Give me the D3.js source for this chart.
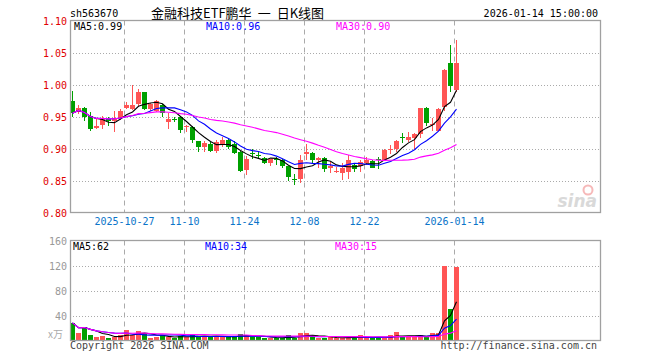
<!DOCTYPE html>
<html>
<head>
<meta charset="utf-8">
<script src="https://cdnjs.cloudflare.com/ajax/libs/d3/7.8.5/d3.min.js"></script>
<style>
body{margin:0;background:#fff}
svg{display:block}
text{font-family:"DejaVu Sans Mono",monospace;font-size:10px}
</style>
</head>
<body>
<div id="chart"></div>
<script>
// daily bars, 563670 since listing
var dates=["10-14","10-15","10-16","10-17","10-20","10-21","10-22","10-23","10-24","10-27","10-28","10-29","10-30","10-31",
"11-03","11-04","11-05","11-06","11-07","11-10","11-11","11-12","11-13","11-14","11-17","11-18","11-19","11-20","11-21","11-24","11-25","11-26","11-27","11-28",
"12-01","12-02","12-03","12-04","12-05","12-08","12-09","12-10","12-11","12-12","12-15","12-16","12-17","12-18","12-19","12-22","12-23","12-24","12-25","12-26","12-29","12-30","12-31",
"01-05","01-06","01-07","01-08","01-09","01-12","01-13","01-14"]
var open=[.975,.957,.964,.951,.932,.937,.946,.943,.947,.964,.962,.969,.988,.961,.959,.968,.942,.946,.950,.933,.934,.911,.902,.907,.896,.907,.913,.907,.894,.866,
.893,.890,.885,.877,.884,.882,.872,.853,.852,.891,.893,.882,.885,.869,.864,.862,.864,.874,.872,.877,.880,.883,.882,.897,.900,.918,.914,.916,.923,.964,.936,.928,.965,1.034,.992]
var high=[.990,.968,.965,.957,.946,.951,.949,.958,.962,.972,1.000,.993,.989,.971,.976,.969,.956,.950,.951,.937,.935,.911,.911,.910,.913,.918,.916,.911,.896,.889,
.900,.895,.887,.884,.887,.884,.873,.860,.890,.907,.894,.886,.887,.879,.871,.878,.890,.878,.882,.886,.882,.887,.900,.906,.914,.924,.926,.924,.964,.965,.947,.964,1.025,1.062,1.069]
var low=[.950,.954,.943,.928,.930,.930,.935,.926,.945,.962,.960,.967,.960,.958,.957,.949,.931,.941,.925,.926,.909,.894,.895,.894,.893,.902,.899,.892,.863,.859,
.884,.883,.876,.873,.875,.870,.850,.843,.846,.882,.877,.870,.864,.862,.861,.851,.853,.864,.864,.875,.869,.868,.880,.892,.895,.908,.910,.900,.916,.935,.927,.927,.959,.988,.988]
var close=[.955,.964,.950,.931,.935,.946,.943,.947,.959,.968,.968,.988,.962,.969,.974,.956,.946,.945,.929,.935,.913,.902,.909,.896,.910,.914,.902,.893,.865,.884,
.892,.889,.877,.883,.882,.872,.855,.852,.882,.894,.882,.885,.868,.872,.865,.870,.882,.868,.879,.882,.870,.882,.898,.900,.911,.917,.918,.923,.963,.940,.939,.962,1.023,.997,1.034]
// volume, 10k units
var volume=[28.3,12.5,21.5,9,5.5,7.6,4.4,5,8.6,16.6,9,15,9.7,4.2,5.5,8.2,5.5,4.6,6.5,5.3,9,7.6,6.8,5.8,5.8,6.8,5.8,5.8,10.5,8.4,
6.2,5.2,4,3.8,4.6,4.6,8,4.6,11.5,11.5,5.5,3.8,4,5.6,4.5,4.5,4.5,4.5,8.2,4.5,4.5,4.5,4.6,8.2,13,5,6,6,9,7,11.5,11.5,119,51,117]

var priceTicks=[0.80,0.85,0.90,0.95,1.00,1.05,1.10]
var volTicks=[40,80,120,160]
var tickDates=["10-27","11-10","11-24","12-08","12-22","01-14"]
var tickLabels=["2025-10-27","11-10","11-24","12-08","12-22","2026-01-14"]
var maPeriods=[5,10,30]
var maColors=["#000","#0000ff","#ff00ff"]

var W=660,H=360
var left=70,right=600
var pTop=20.5,pBot=212.5,vTop=240.5,vBot=340.5
var RED="#ff5555",GREEN="#00a000"

var svg=d3.select("#chart").append("svg").attr("width",W).attr("height",H)

var x=d3.scaleLinear().domain([0,88]).range([left,left+528])
var y=d3.scaleLinear().domain([0.80,1.10]).range([pBot,pTop])
var yv=d3.scaleLinear().domain([0,160]).range([vBot,vTop])

function ma(arr,n){
    return arr.map(function(d,i){
        var s=arr.slice(Math.max(0,i-n+1),i+1)
        return d3.mean(s)
    })
}
function trunc(v,k){var p=Math.pow(10,k);return (Math.floor(v*p+1e-9)/p).toFixed(k)}

var rows=dates.map(function(d,i){
    return {i:i,date:d,o:open[i],h:high[i],l:low[i],c:close[i],v:volume[i],up:close[i]>=open[i]}
})
var tickIdx=tickDates.map(function(d){return dates.indexOf(d)})

// header
svg.append("text").attr("x",70).attr("y",16.5).text("sh563670")
var title=svg.append("text").attr("x",151).attr("y",17.5)
    .style("font-family","'Noto Sans CJK SC',sans-serif").style("font-size","13px")
title.append("tspan").text("金融科技ETF鹏华")
title.append("tspan").attr("dx",6).text("一")
title.append("tspan").attr("dx",6).text("日K线图")
svg.append("text").attr("x",598).attr("y",16.5).attr("text-anchor","end").text("2026-01-14 15:00:00")

// grids
var grid=svg.append("g")
grid.selectAll(".hp").data(priceTicks.slice(1,-1)).enter().append("line")
    .attr("x1",left).attr("x2",right).attr("y1",function(d){return Math.round(y(d))+0.5}).attr("y2",function(d){return Math.round(y(d))+0.5})
    .attr("stroke","#aaa").attr("stroke-dasharray","1,2")
grid.selectAll(".hv").data(volTicks.slice(0,-1)).enter().append("line")
    .attr("x1",left).attr("x2",right).attr("y1",function(d){return Math.round(yv(d))+0.5}).attr("y2",function(d){return Math.round(yv(d))+0.5})
    .attr("stroke","#aaa").attr("stroke-dasharray","1,2")
tickIdx.forEach(function(i){
    [[pTop,pBot],[vTop,vBot]].forEach(function(r){
        grid.append("line").attr("x1",x(i)+0.5).attr("x2",x(i)+0.5).attr("y1",r[0]).attr("y2",r[1])
            .attr("stroke","#aaa").attr("stroke-dasharray","5,4")
    })
})

// axis labels
svg.selectAll(".pl").data(priceTicks).enter().append("text")
    .attr("x",67).attr("y",function(d){return y(d)+4}).attr("text-anchor","end")
    .attr("fill","#e00000").text(function(d){return d.toFixed(2)})
svg.selectAll(".vl").data(volTicks).enter().append("text")
    .attr("x",67).attr("y",function(d){return yv(d)+4}).attr("text-anchor","end")
    .attr("fill","#999").text(function(d){return d})
svg.append("text").attr("x",63).attr("y",338).attr("text-anchor","end").attr("fill","#aaa")
    .style("font-family","'Noto Sans CJK SC',sans-serif").style("font-size","10px").text("x万")
svg.selectAll(".dl").data(tickIdx).enter().append("text")
    .attr("x",function(d){return x(d)+0.5}).attr("y",225).attr("text-anchor","middle")
    .attr("fill","#0a74c9").text(function(d,k){return tickLabels[k]})

// sina mark
var logo=svg.append("g").attr("opacity",0.55)
logo.append("circle").attr("cx",588).attr("cy",190).attr("r",4.5).attr("fill","none").attr("stroke","#f08080").attr("stroke-width",2)
logo.append("text").attr("x",597).attr("y",207).attr("text-anchor","end")
    .style("font-family","'DejaVu Sans',sans-serif").style("font-size","17px").style("font-weight","bold").style("font-style","italic")
    .attr("fill","#bbb").text("sina")

// candles
var cg=svg.append("g").attr("shape-rendering","crispEdges")
cg.selectAll(".wick").data(rows).enter().append("line")
    .attr("x1",function(d){return x(d.i)+2.5}).attr("x2",function(d){return x(d.i)+2.5})
    .attr("y1",function(d){return Math.round(y(d.h))}).attr("y2",function(d){return Math.round(y(d.l))})
    .attr("stroke",function(d){return d.up?RED:GREEN})
cg.selectAll(".body").data(rows).enter().append("rect")
    .attr("x",function(d){return x(d.i)}).attr("width",5)
    .attr("y",function(d){return Math.round(y(Math.max(d.o,d.c)))})
    .attr("height",function(d){return Math.max(1,Math.round(y(Math.min(d.o,d.c)))-Math.round(y(Math.max(d.o,d.c))))})
    .attr("fill",function(d){return d.up?RED:GREEN})
cg.selectAll(".vol").data(rows).enter().append("rect")
    .attr("x",function(d){return x(d.i)}).attr("width",5)
    .attr("y",function(d){return Math.round(yv(d.v))})
    .attr("height",function(d){return Math.round(vBot)-Math.round(yv(d.v))})
    .attr("fill",function(d){return d.up?RED:GREEN})

// moving averages
var pMA=maPeriods.map(function(n){return ma(close,n)})
var vMA=maPeriods.map(function(n){return ma(volume,n)})
var line=d3.line().x(function(d,i){return x(i)+2.5})
maPeriods.forEach(function(n,k){
    svg.append("path").attr("d",line.y(function(d){return y(d)})(pMA[k]))
        .attr("fill","none").attr("stroke",maColors[k]).attr("stroke-width",1.1)
    svg.append("path").attr("d",line.y(function(d){return yv(d)})(vMA[k]))
        .attr("fill","none").attr("stroke",maColors[k]).attr("stroke-width",1.1)
})

// frames
;[[pTop,pBot],[vTop,vBot]].forEach(function(r){
    svg.append("rect").attr("x",left+0.5).attr("y",r[0]).attr("width",right-left).attr("height",r[1]-r[0])
        .attr("fill","none").attr("stroke","#a0a0a0").attr("stroke-width",1.3)
})

// legends
var legX=[74,206,336]
maPeriods.forEach(function(n,k){
    var last=pMA[k][pMA[k].length-1]
    svg.append("text").attr("x",legX[k]).attr("y",30).attr("fill",maColors[k]).text("MA"+n+":"+trunc(last,2))
    var lv=vMA[k][vMA[k].length-1]
    svg.append("text").attr("x",legX[k]-1).attr("y",250).attr("fill",maColors[k]).text("MA"+n+":"+Math.floor(lv))
})

// footer
svg.append("text").attr("x",70).attr("y",349).attr("fill","#444").text("Copyright 2026 SINA.COM")
svg.append("text").attr("x",597).attr("y",349).attr("text-anchor","end").attr("fill","#444").text("http://finance.sina.com.cn")
</script>
</body>
</html>
